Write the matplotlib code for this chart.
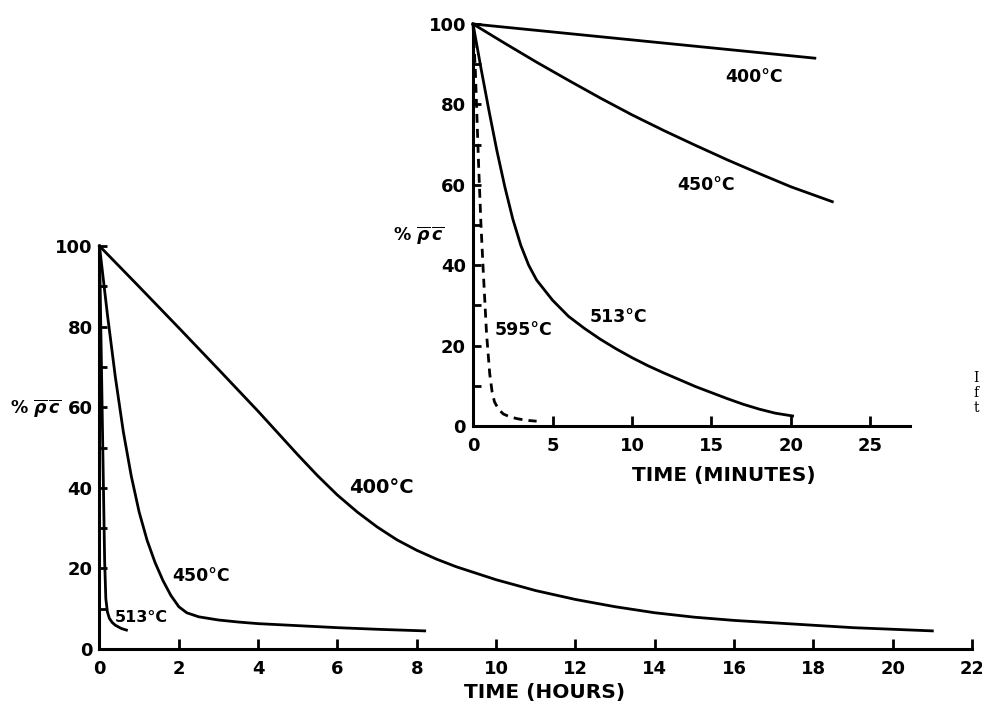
import matplotlib
matplotlib.use("Agg")
import matplotlib.pyplot as plt

# main panel: time in hours
h400 = [0, 1, 2, 3, 4, 4.5, 5, 5.5, 6, 6.5, 7, 7.5, 8, 8.5, 9, 10, 11, 12, 13, 14, 15,
        16, 17, 18, 19, 20, 21]
v400 = [100, 89.9, 79.7, 69.4, 59.0, 53.6, 48.2, 43.0, 38.2, 34.0, 30.3, 27.1, 24.5, 22.3,
        20.4, 17.2, 14.5, 12.3, 10.5, 9.0, 7.9, 7.1, 6.5, 5.9, 5.3, 4.9, 4.5]
h450 = [0, 0.2, 0.4, 0.6, 0.8, 1.0, 1.2, 1.4, 1.6, 1.8, 2.0, 2.2, 2.5, 3, 3.5, 4, 5, 6, 7, 8.2]
v450 = [100, 83, 67.5, 54, 43, 34, 27, 21.5, 17, 13.3, 10.5, 9.0, 8.0, 7.2, 6.7, 6.3, 5.8,
        5.3, 4.9, 4.5]
h513 = [0, 0.05, 0.1, 0.13, 0.16, 0.2, 0.25, 0.32, 0.4, 0.55, 0.68]
v513 = [100, 70, 40, 22, 12.5, 9.2, 7.6, 6.6, 5.9, 5.1, 4.7]

# inset: time in minutes
m400 = [0, 21.5]
i400 = [100, 91.5]
m450 = [0, 2, 4, 6, 8, 10, 12, 14, 16, 18, 20, 22.6]
i450 = [100, 95.2, 90.5, 86, 81.6, 77.4, 73.5, 69.8, 66.2, 62.8, 59.5, 55.8]
m513 = [0, 0.5, 1, 1.5, 2, 2.5, 3, 3.5, 4, 5, 6, 7, 8, 9, 10, 11, 12, 13, 14, 15, 16,
        17, 18, 19, 20.1]
i513 = [100, 89, 78.5, 68.5, 59.5, 51.5, 45, 40, 36.3, 31.3, 27.3, 24.3, 21.6, 19.2, 17,
        15, 13.2, 11.5, 9.8, 8.3, 6.8, 5.4, 4.2, 3.2, 2.5]
m595 = [0, 0.15, 0.35, 0.5, 0.65, 0.85, 1.05, 1.2, 1.35, 1.6, 1.9, 2.3, 2.8, 3.4, 4.0]
i595 = [100, 88, 65, 50, 38, 23, 13, 8.5, 6, 4.2, 3, 2.3, 1.8, 1.4, 1.2]

hour_ticks = list(range(0, 23, 2))
min_ticks = [0, 5, 10, 15, 20, 25]
pct_major = [0, 20, 40, 60, 80, 100]
pct_minor = [10, 30, 50, 70, 90]

plt.rcParams["font.family"] = ["DejaVu Sans"]
plt.rcParams["font.weight"] = "bold"
ylab = r"% $\overline{\rho}\,\overline{c}$"

fig = plt.figure(figsize=(9.82, 7.08), dpi=100)
fig.patch.set_facecolor("white")


def style(ax, xmax, xticks):
    ax.set_xlim(0, xmax)
    ax.set_ylim(0, 100)
    for s in ("top", "right"):
        ax.spines[s].set_visible(False)
    for s in ("left", "bottom"):
        ax.spines[s].set_linewidth(2.2)
    ax.set_xticks(xticks)
    ax.set_yticks(pct_major)
    ax.set_yticks(pct_minor, minor=True)
    ax.tick_params(which="both", direction="in", width=2.0, labelsize=13)
    ax.tick_params(axis="x", length=7, pad=8)
    ax.tick_params(axis="y", which="both", length=6, pad=5)
    ax.set_facecolor("none")


kw = dict(color="black", lw=2.0, clip_on=False)
lab = dict(fontsize=12.5, va="center")

# main axes
ax = fig.add_axes([0.1013, 0.0833, 0.8885, 0.5692])
style(ax, 22, hour_ticks)
ax.plot(h400, v400, **kw)
ax.plot(h450, v450, **kw)
ax.plot(h513, v513, **kw)
ax.text(6.3, 40, "400°C", fontsize=14, va="center")
ax.text(1.83, 18.1, "450°C", **lab)
ax.text(0.39, 7.7, "513°C", fontsize=11.5, va="center")
ax.set_xlabel("TIME (HOURS)", fontsize=14.5, fontweight="bold")
ax.xaxis.label.set_va("center")
ax.xaxis.set_label_coords(0.51, -0.109)
fig.text(0.010, 0.424, ylab, fontsize=12.5, va="center")

# inset axes
ins = fig.add_axes([0.4817, 0.3983, 0.4452, 0.5678])
style(ins, 27.5, min_ticks)
ins.plot(m400, i400, **kw)
ins.plot(m450, i450, **kw)
ins.plot(m513, i513, **kw)
ins.plot(m595, i595, color="black", lw=2.0, ls=(0, (3.2, 2.2)), clip_on=False)
ins.text(15.85, 86.8, "400°C", **lab)
ins.text(12.83, 60, "450°C", **lab)
ins.text(7.36, 27.1, "513°C", **lab)
ins.text(1.38, 23.9, "595°C", **lab)
ins.set_xlabel("TIME (MINUTES)", fontsize=14.5, fontweight="bold")
ins.xaxis.label.set_va("center")
ins.xaxis.set_label_coords(0.574, -0.124)
fig.text(0.400, 0.668, ylab, fontsize=12.5, va="center")

# cropped caption fragment at right edge
for y, s in ((0.466, "I"), (0.445, "f"), (0.424, "t")):
    fig.text(0.991, y, s, fontsize=10, family="DejaVu Serif", weight="normal", va="center")

fig.savefig("out.png", dpi=100, facecolor="white")
